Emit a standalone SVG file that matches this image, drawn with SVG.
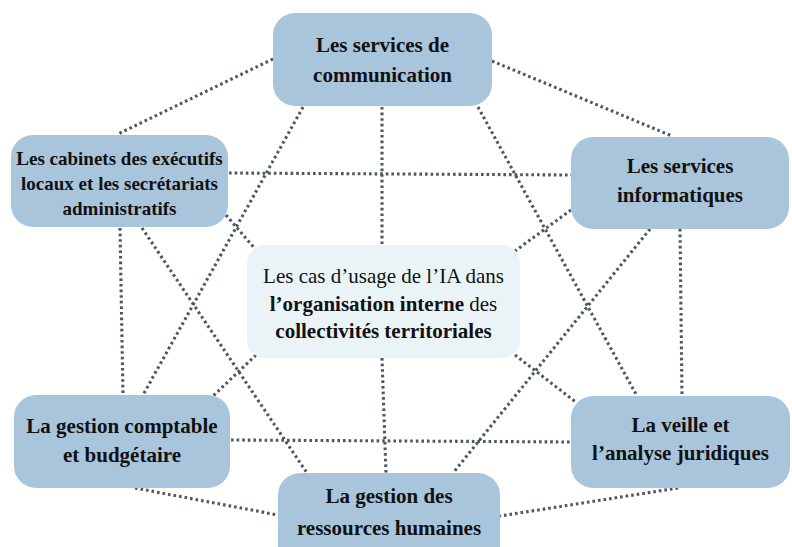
<svg xmlns="http://www.w3.org/2000/svg" width="792" height="547" viewBox="0 0 792 547">
<style>
.node{fill:#a9c5dc;}
.core{fill:#eaf4f6;}
.t{font-family:"Liberation Serif","Times New Roman",serif;font-size:21px;font-weight:bold;fill:#111;text-anchor:middle;}
.s{font-size:19px;}
.r{font-weight:normal;}
.c line{stroke:#4b5763;stroke-width:3.1;stroke-dasharray:2.6 3;fill:none;}
</style>
<rect width="792" height="547" fill="#fff"/>
<g id="connectors" class="c">
<line x1="273" y1="59" x2="118" y2="134"/>
<line x1="492" y1="61" x2="672" y2="136"/>
<line x1="303" y1="107" x2="143" y2="395"/>
<line x1="382" y1="107" x2="382" y2="245"/>
<line x1="478" y1="107" x2="637" y2="396"/>
<line x1="229" y1="173" x2="571" y2="175"/>
<line x1="226" y1="215" x2="256" y2="250"/>
<line x1="120" y1="228" x2="123" y2="395"/>
<line x1="142" y1="228" x2="307" y2="473"/>
<line x1="571" y1="210" x2="515" y2="251"/>
<line x1="650" y1="229" x2="453" y2="473"/>
<line x1="680" y1="229" x2="682" y2="396"/>
<line x1="256" y1="355" x2="212" y2="397"/>
<line x1="382" y1="358" x2="386" y2="473"/>
<line x1="515" y1="355" x2="577" y2="403"/>
<line x1="231" y1="440" x2="571" y2="442"/>
<line x1="135" y1="488" x2="278" y2="515"/>
<line x1="678" y1="488" x2="500" y2="516"/>
</g>
<g id="n-communication">
<rect class="node" x="273" y="13" width="219" height="93" rx="22"/>
<text class="t" x="382.5" y="52">Les services de</text>
<text class="t" x="382.5" y="82">communication</text>
</g>
<g id="n-cabinets">
<rect class="node" x="11" y="135" width="217" height="92" rx="22"/>
<text class="t s" x="119.5" y="165">Les cabinets des exécutifs</text>
<text class="t s" x="119.5" y="190">locaux et les secrétariats</text>
<text class="t s" x="119.5" y="215">administratifs</text>
</g>
<g id="n-informatiques">
<rect class="node" x="571" y="137" width="218" height="92" rx="22"/>
<text class="t" x="680" y="173">Les services</text>
<text class="t" x="680" y="202">informatiques</text>
</g>
<g id="n-centre">
<rect class="core" x="247" y="245" width="273" height="113" rx="18"/>
<text class="t r" x="383.5" y="283">Les cas d’usage de l’IA dans</text>
<text class="t" x="383.5" y="311">l’organisation interne<tspan class="r"> des</tspan></text>
<text class="t" x="383.5" y="338">collectivités territoriales</text>
</g>
<g id="n-comptable">
<rect class="node" x="14" y="395" width="216" height="93" rx="22"/>
<text class="t" x="122" y="433">La gestion comptable</text>
<text class="t" x="122" y="462">et budgétaire</text>
</g>
<g id="n-rh">
<rect class="node" x="278" y="473" width="222" height="95" rx="22"/>
<text class="t" x="389" y="503">La gestion des</text>
<text class="t" x="389" y="535">ressources humaines</text>
</g>
<g id="n-juridique">
<rect class="node" x="571" y="396" width="219" height="92" rx="22"/>
<text class="t" x="680.5" y="432">La veille et</text>
<text class="t" x="680.5" y="460">l’analyse juridiques</text>
</g>
</svg>
